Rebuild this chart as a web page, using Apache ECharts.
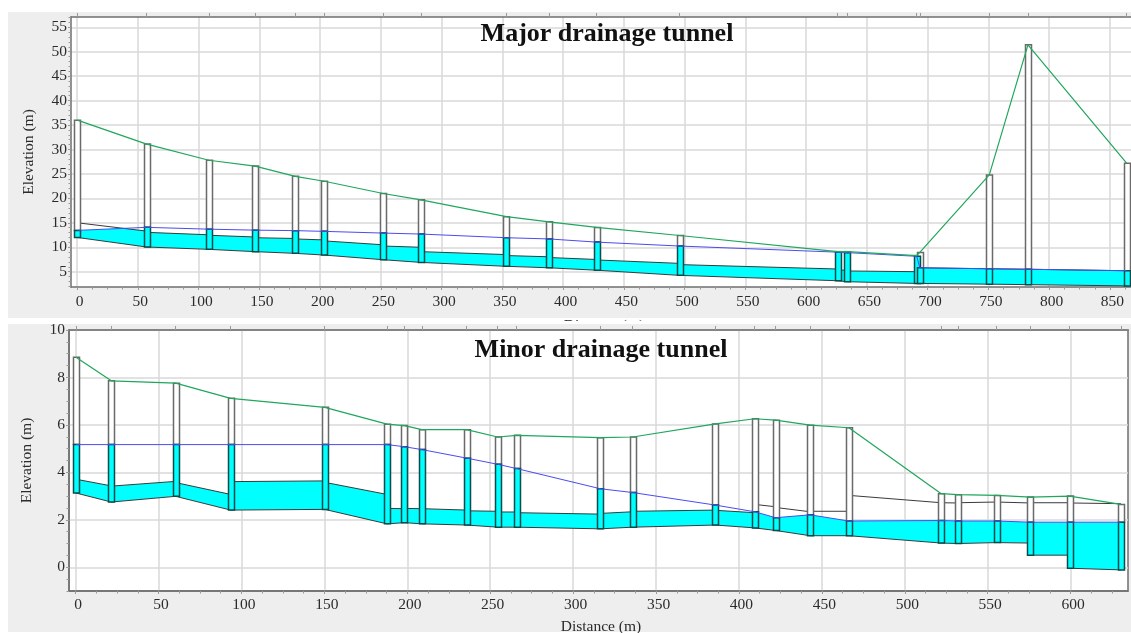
<!DOCTYPE html>
<html>
<head>
<meta charset="utf-8">
<style>html,body{margin:0;padding:0;background:#fff}#c{width:1131px;height:633px}</style>
<script src="https://cdn.jsdelivr.net/npm/echarts@6/dist/echarts.min.js"></script>
</head>
<body>
<div id="c"></div>
<script>
// ---------- Major drainage tunnel ----------
const majorTitle = 'Major drainage tunnel';
const majorXTicks = [0,50,100,150,200,250,300,350,400,450,500,550,600,650,700,750,800,850];
const majorYTicks = [5,10,15,20,25,30,35,40,45,50,55];
const majorNodeX  = [0.3,57.3,108.5,146.5,179.6,203.5,252,283,353.4,388.4,427.6,495.9,625.9,634,691,693.5,750.7,782.5,863.7];
const majorGround = [36,31.1,27.8,26.6,24.5,23.5,21,19.7,16.25,15.2,14.05,12.4,9.1,9.1,8.3,8.95,24.8,51.4,27.2];
const majorInvert = [12,10.05,9.57,9.1,8.75,8.4,7.45,6.9,6.1,5.8,5.3,4.25,3.15,2.95,2.6,2.6,2.45,2.35,2.1];
const majorWater  = [13.45,14.07,13.7,13.5,13.4,13.25,12.9,12.7,11.95,11.7,11.05,10.25,9,8.9,8.15,5.8,5.6,5.5,5.2];
const majorLinkBottomA = [12,10.05,9.57,9.1,8.75,8.4,7.45,6.9,6.1,5.8,5.3,4.25,3.15,2.95,2.6,2.6,2.45,2.35];
const majorLinkBottomB = [10.05,9.57,9.1,8.75,8.4,7.45,6.9,6.1,5.8,5.3,4.25,3.15,2.95,2.6,2.6,2.45,2.35,2.1];
const majorLinkCrownA  = [15,13.05,12.45,11.95,11.7,11.3,10.25,9.1,8.3,7.9,7.4,6.45,5.35,5.15,5,5.8,5.6,5.5];
const majorLinkCrownB  = [13.3,12.55,12.1,11.8,11.5,10.5,10,8.5,8.05,7.5,6.7,5.55,5.3,5,5.8,5.6,5.5,5.2];

// ---------- Minor drainage tunnel ----------
const minorTitle = 'Minor drainage tunnel';
const minorXTicks = [0,50,100,150,200,250,300,350,400,450,500,550,600];
const minorYTicks = [0,2,4,6,8,10];
const minorNodeX  = [0.2,21.5,60.3,93.5,150.2,187.8,198.3,208.8,235.8,254.5,266,316.4,335.9,385.8,409.5,422.1,442.9,466.3,522,532,555.4,575.7,599.4,630.3];
const minorGround = [8.85,7.86,7.76,7.12,6.74,6.03,5.97,5.8,5.8,5.49,5.56,5.46,5.49,6.04,6.26,6.2,5.99,5.88,3.1,3.06,3.03,2.96,3,2.65];
const minorInvert = [3.13,2.75,2.99,2.41,2.44,1.83,1.88,1.83,1.78,1.69,1.69,1.62,1.69,1.78,1.66,1.55,1.33,1.33,1.02,1,1.04,0.51,-0.04,-0.11];
const minorWater  = [5.17,5.17,5.17,5.17,5.17,5.17,5.08,4.96,4.6,4.34,4.16,3.31,3.15,2.62,2.34,2.09,2.21,1.95,1.97,1.95,1.95,1.9,1.9,1.9];
const minorLinkBottomA = [3.13,2.75,2.99,2.41,2.44,1.83,1.88,1.83,1.78,1.69,1.69,1.62,1.69,1.78,1.66,1.55,1.33,1.33,1.02,1,1.04,0.51,-0.04];
const minorLinkBottomB = [2.75,2.99,2.41,2.44,1.83,1.88,1.83,1.78,1.69,1.69,1.62,1.69,1.78,1.66,1.55,1.33,1.33,1.02,1,1.04,1.02,0.51,-0.11];
const minorLinkCrownA  = [3.71,3.42,3.57,3.61,3.58,2.48,2.48,2.47,2.38,2.33,2.3,2.27,2.36,2.4,2.65,2.52,2.36,3.03,2.72,2.72,2.75,2.72,2.71];
const minorLinkCrownB  = [3.43,3.62,3.07,3.64,3.07,2.47,2.47,2.41,2.36,2.33,2.24,2.34,2.41,2.3,2.55,2.34,2.36,2.72,2.71,2.75,2.71,2.72,2.68];

const FONT = '"Liberation Serif", serif';
const TXT = '#2b2b2b', AXIS = '#6f6f6f', GRIDC = '#d8d8d8', TICK = '#9a9a9a';
const CYAN = '#00ffff', GREEN = '#1fa75c', BLUE = '#4b4bf2', PIPE = '#3a3a3a', NODE = '#6a6a6a', NODEW = '#0d4a4a';

function stepTicks(from, to, step) {
  const out = [];
  for (let i = 0; from + i * step <= to + 1e-9; i++) out.push(+(from + i * step).toFixed(3));
  return out;
}

function linkRows(x, water, ba, bb, ca, cb) {
  return ba.map((_, i) => [x[i], x[i + 1], ba[i], bb[i], ca[i], cb[i], water[i], water[i + 1]]);
}
function nodeRows(x, g, inv, w) { return x.map((v, i) => [v, g[i], inv[i], w[i]]); }

function renderLink(params, api) {
  const x0 = api.value(0), x1 = api.value(1), b0 = api.value(2), b1 = api.value(3);
  const c0 = api.value(4), c1 = api.value(5), w0 = api.value(6), w1 = api.value(7);
  const top = [[x0, Math.min(c0, w0)]];
  const d0 = c0 - w0, d1 = c1 - w1;
  if (d0 * d1 < 0) {
    const t = d0 / (d0 - d1);
    top.push([x0 + t * (x1 - x0), c0 + t * (c1 - c0)]);
  }
  top.push([x1, Math.min(c1, w1)]);
  const poly = top.map(p => api.coord(p)).concat([api.coord([x1, b1]), api.coord([x0, b0])]);
  return { type: 'group', children: [
    { type: 'polygon', shape: { points: poly }, style: { fill: CYAN }, z2: 1 },
    { type: 'polyline', shape: { points: [api.coord([x0, c0]), api.coord([x1, c1])] }, style: { fill: 'none', stroke: PIPE, lineWidth: 1 }, z2: 2 },
    { type: 'polyline', shape: { points: [api.coord([x0, b0]), api.coord([x1, b1])] }, style: { fill: 'none', stroke: PIPE, lineWidth: 1 }, z2: 2 }
  ]};
}
function renderNode(params, api) {
  const x = api.value(0), g = api.value(1), inv = api.value(2), w = Math.min(api.value(3), g);
  const pt = api.coord([x, g]), pw = api.coord([x, w]), pb = api.coord([x, inv]);
  const W = 6, l = Math.round(pt[0] - W / 2) + 0.5;
  return { type: 'group', children: [
    { type: 'rect', shape: { x: l, y: pt[1], width: W, height: pw[1] - pt[1] }, style: { fill: '#fff', stroke: NODE, lineWidth: 1.5 }, z2: 3 },
    { type: 'rect', shape: { x: l, y: pw[1], width: W, height: pb[1] - pw[1] }, style: { fill: CYAN, stroke: NODEW, lineWidth: 1.5 }, z2: 4 }
  ]};
}

function axesFor(gi, z, xr, yr, xTicks, yTicks, xMinor, yMinor, nodeX, xGap, xLabelMargin, namePad) {
  const xBase = { gridIndex: gi, type: 'value', min: xr[0], max: xr[1], z: z };
  const yBase = { gridIndex: gi, type: 'value', min: yr[0], max: yr[1], z: z };
  const x = [
    Object.assign({}, xBase, {
      position: 'bottom', name: 'Distance (m)', nameLocation: 'middle', nameGap: xGap,
      nameTextStyle: { fontFamily: FONT, fontSize: 15.5, color: TXT, padding: namePad },
      axisLine: { show: true, onZero: false, lineStyle: { color: AXIS, width: 1.5 } },
      axisTick: { show: true, length: 3, customValues: xTicks, lineStyle: { color: TICK } },
      axisLabel: { customValues: xTicks, showMinLabel: true, showMaxLabel: true, hideOverlap: false, margin: xLabelMargin, fontFamily: FONT, fontSize: 15.5, color: TXT, padding: [0, 0, 0, 5], formatter: v => String(v) },
      splitLine: { show: true, lineStyle: { color: GRIDC, width: 1.5 } }
    }),
    Object.assign({}, xBase, {
      position: 'bottom', axisLine: { show: false, onZero: false },
      axisTick: { show: true, length: 2.5, customValues: xMinor, lineStyle: { color: TICK } },
      axisLabel: { show: false }, splitLine: { show: false }
    }),
    Object.assign({}, xBase, {
      position: 'top', axisLine: { show: true, onZero: false, lineStyle: { color: AXIS, width: 1.5 } },
      axisTick: { show: true, length: 4, customValues: nodeX, lineStyle: { color: TICK, width: 1 } },
      axisLabel: { show: false }, splitLine: { show: false }
    })
  ];
  const y = [
    Object.assign({}, yBase, {
      position: 'left', name: 'Elevation (m)', nameLocation: 'middle', nameGap: 34,
      nameTextStyle: { fontFamily: FONT, fontSize: 15.5, color: TXT },
      axisLine: { show: true, onZero: false, lineStyle: { color: AXIS, width: 1.5 } },
      axisTick: { show: true, length: 3, customValues: yTicks, lineStyle: { color: TICK } },
      axisLabel: { customValues: yTicks, showMinLabel: true, showMaxLabel: true, hideOverlap: false, margin: 4, fontFamily: FONT, fontSize: 15.5, color: TXT, formatter: v => String(v) },
      splitLine: { show: true, lineStyle: { color: GRIDC, width: 1.5 } }
    }),
    Object.assign({}, yBase, {
      position: 'left', axisLine: { show: false, onZero: false },
      axisTick: { show: true, length: 2.5, customValues: yMinor, lineStyle: { color: TICK } },
      axisLabel: { show: false }, splitLine: { show: false }
    })
  ];
  return { x, y };
}

function seriesFor(xi, yi, z, x, g, inv, w, ba, bb, ca, cb) {
  const common = { xAxisIndex: xi, yAxisIndex: yi, z: z, clip: true, silent: true, animation: false };
  return [
    Object.assign({}, common, { type: 'custom', name: 'Conduits', renderItem: renderLink, data: linkRows(x, w, ba, bb, ca, cb), encode: { x: [0, 1], y: [2, 3] } }),
    Object.assign({}, common, { type: 'custom', name: 'Nodes', renderItem: renderNode, data: nodeRows(x, g, inv, w), encode: { x: 0, y: [1, 2] } }),
    Object.assign({}, common, { type: 'line', name: 'Water level', data: x.map((v, i) => [v, w[i]]), showSymbol: false, symbol: 'none', lineStyle: { color: BLUE, width: 1 }, z: z + 0.5 }),
    Object.assign({}, common, { type: 'line', name: 'Ground', data: x.map((v, i) => [v, g[i]]), showSymbol: false, symbol: 'none', lineStyle: { color: GREEN, width: 1.2 }, z: z + 0.6 })
  ];
}

const topAxes = axesFor(0, 2, [-4.94, 867.3], [1.87, 57.1], majorXTicks, majorYTicks,
  stepTicks(0, 867, 12.5), stepTicks(2, 57, 1), majorNodeX, 31, 7, [0, 0, 0, 6]);
const botAxes = axesFor(1, 6, [-4, 634.6], [-1, 10], minorXTicks, minorYTicks,
  stepTicks(0, 634, 12.5), stepTicks(-1, 10, 0.5), minorNodeX, 28, 6, [0, 0, 0, 5]);

const chart = echarts.init(document.getElementById('c'), null, { renderer: 'canvas' });
chart.setOption({
  animation: false,
  backgroundColor: '#ffffff',
  graphic: { elements: [
    { type: 'rect', z: 0, silent: true, shape: { x: 8, y: 12, width: 1123, height: 306 }, style: { fill: '#eeeeee' } },
    { type: 'rect', z: 4, silent: true, shape: { x: 0, y: 321, width: 1131, height: 312 }, style: { fill: '#ffffff' } },
    { type: 'rect', z: 4, silent: true, shape: { x: 8, y: 324, width: 1123, height: 308 }, style: { fill: '#eeeeee' } }
  ]},
  title: [
    { text: majorTitle, left: 602, top: 16, textAlign: 'center', z: 20, textStyle: { fontFamily: FONT, fontWeight: 'bold', fontSize: 26, color: '#111' } },
    { text: minorTitle, left: 596, top: 332, textAlign: 'center', z: 20, textStyle: { fontFamily: FONT, fontWeight: 'bold', fontSize: 26, color: '#111' } }
  ],
  grid: [
    { left: 71, top: 17, width: 1060, height: 270, show: true, backgroundColor: '#fff', borderWidth: 0, z: 1, outerBoundsMode: 'none' },
    { left: 69, top: 330, width: 1059, height: 261, show: true, backgroundColor: '#fff', borderColor: AXIS, borderWidth: 1.5, z: 5, outerBoundsMode: 'none' }
  ],
  xAxis: topAxes.x.concat(botAxes.x),
  yAxis: topAxes.y.concat(botAxes.y),
  series: seriesFor(0, 0, 3, majorNodeX, majorGround, majorInvert, majorWater, majorLinkBottomA, majorLinkBottomB, majorLinkCrownA, majorLinkCrownB)
    .concat(seriesFor(3, 2, 7, minorNodeX, minorGround, minorInvert, minorWater, minorLinkBottomA, minorLinkBottomB, minorLinkCrownA, minorLinkCrownB))
});
</script>
</body>
</html>
